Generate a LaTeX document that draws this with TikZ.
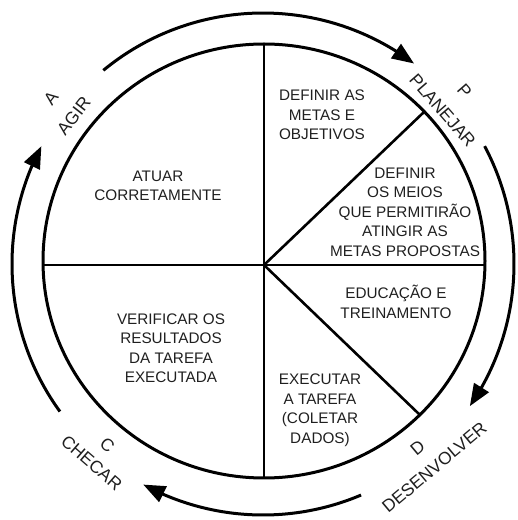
\documentclass[tikz,border=0pt]{standalone}
\usepackage{fontspec}
\setmainfont{Liberation Sans}
\usetikzlibrary{arrows.meta,bending}
\begin{document}
\begin{tikzpicture}[x=1pt,y=1pt,
  ring/.style={line width=3pt},
  divider/.style={line width=2.6pt},
  cyc/.style={line width=3pt, -{Triangle[length=22pt,width=17pt,flex]}},
  inner/.style={align=center, font=\fontsize{15.3}{19.5}\selectfont, inner sep=0pt, text=black!88},
  outer/.style={align=center, inner sep=0pt, text=black!88}]
\useasboundingbox (0,0) rectangle (518,520);
\coordinate (E) at (264,259);
\coordinate (O) at (263,256);
\draw[ring] (E) ellipse[x radius=221, y radius=217];
\coordinate (H) at (264,255);
\coordinate (T) at (264,476);
\coordinate (B) at (264,42);
\coordinate (L) at (43,255);
\coordinate (R) at (485,255);
\coordinate (D1) at (424,408);
\coordinate (D2) at (420,105);
\draw[divider] (T) -- (B);
\draw[divider] (L) -- (R);
\draw[divider] (H) -- (D1);
\draw[divider] (H) -- (D2);
% cycle arcs
\draw[cyc] ([shift={(129.5:251)}]O) arc[start angle=129.5, end angle=53, radius=251];
\draw[cyc] ([shift={(28:251)}]O) arc[start angle=28, end angle=-34.5, radius=251];
\draw[cyc] ([shift={(-67:251)}]O) arc[start angle=-67, end angle=-118.5, radius=251];
\draw[cyc] ([shift={(216:251)}]O) arc[start angle=216, end angle=152, radius=251];
% inner texts
\node[inner] (agir) at (158,334) {ATUAR\\CORRETAMENTE};
\node[inner] (metas) at (322,405) {DEFINIR AS\\METAS E\\OBJETIVOS};
\node[inner] (meios) at (405,308) {DEFINIR\\OS MEIOS\\QUE PERMITIRÃO\\ATINGIR AS\\METAS PROPOSTAS};
\node[inner] (educ) at (396,218) {EDUCAÇÃO E\\TREINAMENTO};
\node[inner] (exec) at (320,110) {EXECUTAR\\A TAREFA\\(COLETAR\\DADOS)};
\node[inner] (verif) at (171,172) {VERIFICAR OS\\RESULTADOS\\DA TAREFA\\EXECUTADA};
% outer labels
\node[outer, rotate=52, font=\fontsize{17.5}{29}\selectfont] (la) at (62.5,413) {A\\AGIR};
\node[outer, rotate=-49, font=\fontsize{17.5}{29}\selectfont] (lp) at (453.5,419) {P\\PLANEJAR};
\node[outer, rotate=40, font=\fontsize{17.5}{26}\selectfont] (ld) at (426,62.5) {D\\DESENVOLVER};
\node[outer, rotate=-41, font=\fontsize{17.5}{24}\selectfont] (lc) at (99.5,66) {C\\CHECAR};
\end{tikzpicture}
\end{document}
